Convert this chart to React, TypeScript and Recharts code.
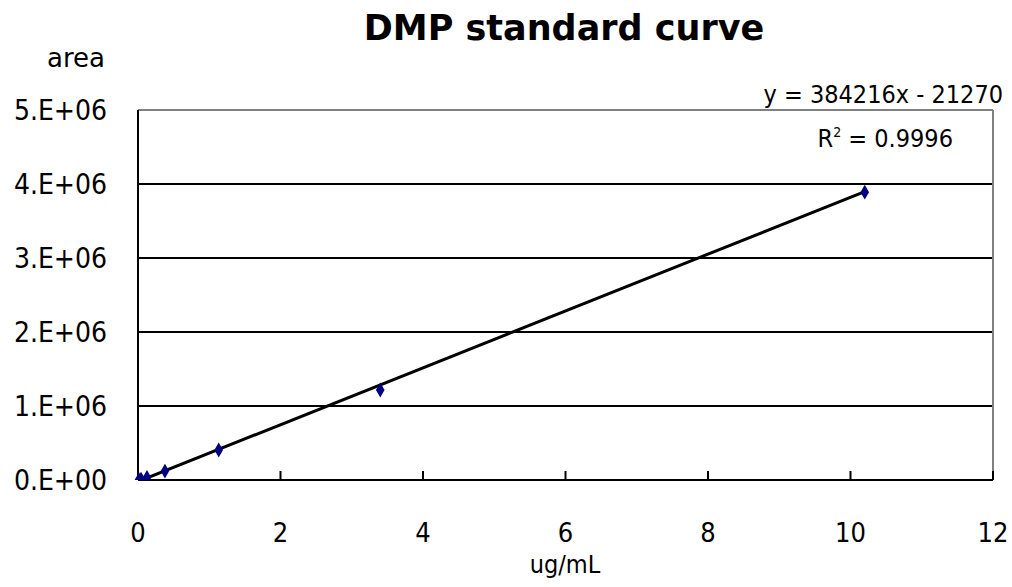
import React from "react"
import { ScatterChart, Scatter, XAxis, YAxis, ReferenceLine } from "recharts"

// measured standards (ug/mL vs peak area)
const conc = [0.014, 0.042, 0.126, 0.378, 1.133, 3.4, 10.2]
const area = [5000, 12000, 35000, 120000, 405000, 1216000, 3890000]

// Excel linear trendline shown on the chart
const SLOPE = 384216
const INTERCEPT = -21270
const equationText = "y = 384216x - 21270"
const r2Value = "0.9996"

const xTicks = [0, 2, 4, 6, 8, 10, 12]
const yTicks = [0, 1e6, 2e6, 3e6, 4e6, 5e6]
const gridValues = [1e6, 2e6, 3e6, 4e6]

const points = conc.map((x, i) => ({ x, y: area[i] }))
const trendX = [conc[0], conc[conc.length - 1]]
const trend = trendX.map((x) => ({ x, y: SLOPE * x + INTERCEPT }))

const tickFont = "'DejaVu Sans Condensed', 'DejaVu Sans', sans-serif"
const comic = "'Comic Sans MS', 'DejaVu Sans', sans-serif"

const fmtY = (v: number) => (v === 0 ? "0.E+00" : `${v / 1e6}.E+06`)

export default function App() {
  return (
    <div style={{ position: "absolute", left: 0, top: 0, width: 1012, height: 587, background: "#fff" }}>
      <ScatterChart width={1012} height={587} margin={{ top: 110, right: 19, bottom: 47, left: 0 }}>
        <XAxis
          type="number"
          dataKey="x"
          domain={[0, 12]}
          ticks={xTicks}
          height={60}
          axisLine={{ stroke: "#000", strokeWidth: 2 }}
          tickLine={{ stroke: "#000", strokeWidth: 2 }}
          tickSize={-9}
          tickMargin={52}
          tick={{ fill: "#000", fontSize: 27, fontFamily: tickFont }}
        />
        <YAxis
          type="number"
          dataKey="y"
          domain={[0, 5e6]}
          allowDataOverflow
          ticks={yTicks}
          width={138}
          axisLine={{ stroke: "#000", strokeWidth: 2 }}
          tickLine={false}
          tickSize={0}
          tickMargin={31}
          tickFormatter={fmtY}
          tick={{ fill: "#000", fontSize: 28, fontFamily: tickFont }}
        />
        {gridValues.map((v) => (
          <ReferenceLine key={v} y={v} stroke="#000" strokeWidth={2} />
        ))}
        <ReferenceLine y={5e6} stroke="#808080" strokeWidth={2} />
        <ReferenceLine x={12} stroke="#808080" strokeWidth={2} />
        <Scatter
          data={trend}
          line={{ stroke: "#000", strokeWidth: 3 }}
          shape={() => null}
          isAnimationActive={false}
        />
        <Scatter data={points} shape="diamond" fill="#000080" size={90} isAnimationActive={false} />
      </ScatterChart>
      <svg
        width={1012}
        height={587}
        style={{ position: "absolute", left: 0, top: 0, pointerEvents: "none" }}
      >
        <text x={564} y={40} textAnchor="middle" fontFamily={comic} fontWeight="bold" fontSize={35} fill="#000">
          DMP standard curve
        </text>
        <text x={76} y={67} textAnchor="middle" fontFamily={comic} fontSize={26} fill="#000">
          area
        </text>
        <text x={1003} y={103} textAnchor="end" fontFamily={tickFont} fontSize={25} fill="#000">
          {equationText}
        </text>
        <text x={953} y={147} textAnchor="end" fontFamily={tickFont} fontSize={25} fill="#000">
          R<tspan fontSize={14} dy={-10}>2</tspan>
          <tspan dy={10}> = {r2Value}</tspan>
        </text>
        <text x={565} y={573} textAnchor="middle" fontFamily={tickFont} fontSize={25} fill="#000">
          ug/mL
        </text>
      </svg>
    </div>
  )
}
